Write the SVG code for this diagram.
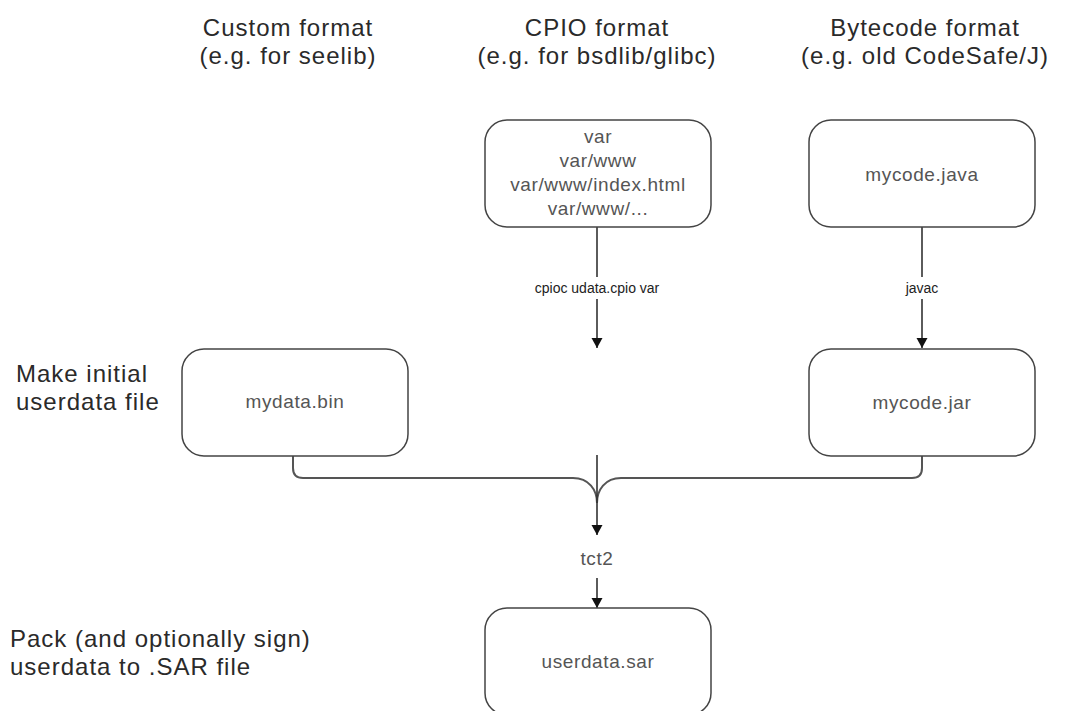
<svg xmlns="http://www.w3.org/2000/svg" width="1072" height="711" viewBox="0 0 1072 711">
<style>
.hdr{font-family:"Liberation Sans",Arial,sans-serif;font-size:24px;fill:#2a2a2a;letter-spacing:1px}
.side{font-family:"Liberation Sans",Arial,sans-serif;font-size:24px;fill:#2a2a2a;letter-spacing:1px}
.box{fill:#fff;stroke:#444;stroke-width:1.5}
.lbl{font-family:"Liberation Sans",Arial,sans-serif;font-size:19px;fill:#555;text-anchor:middle;letter-spacing:0.6px}
.edge{font-family:"Liberation Sans",Arial,sans-serif;font-size:14px;fill:#222;text-anchor:middle}
.con{fill:none;stroke:#333;stroke-width:1.6}
.merge{fill:none;stroke:#555;stroke-width:2}
</style>
<defs>
<marker id="arr" viewBox="0 0 10 14" refX="10" refY="7" markerWidth="10" markerHeight="14" markerUnits="userSpaceOnUse" orient="auto">
<path d="M0,1.5 L10,7 L0,12.5 z" fill="#111"/>
</marker>
</defs>

<g id="headers">
<text class="hdr" x="288" y="36" text-anchor="middle">Custom format</text>
<text class="hdr" x="288" y="64" text-anchor="middle">(e.g. for seelib)</text>
<text class="hdr" x="597" y="36" text-anchor="middle">CPIO format</text>
<text class="hdr" x="597" y="64" text-anchor="middle">(e.g. for bsdlib/glibc)</text>
<text class="hdr" x="925" y="36" text-anchor="middle">Bytecode format</text>
<text class="hdr" x="925" y="64" text-anchor="middle">(e.g. old CodeSafe/J)</text>
</g>

<g id="steps">
<text class="side" x="16" y="382">Make initial</text>
<text class="side" x="16" y="410">userdata file</text>
<text class="side" x="10" y="647">Pack (and optionally sign)</text>
<text class="side" x="10" y="675">userdata to .SAR file</text>
</g>

<g id="connectors">
<line class="con" x1="597" y1="227" x2="597" y2="277"/>
<text class="edge" x="597" y="293">cpioc udata.cpio var</text>
<line class="con" x1="597" y1="299" x2="597" y2="348" marker-end="url(#arr)"/>
<line class="con" x1="922" y1="227" x2="922" y2="277"/>
<text class="edge" x="922" y="293">javac</text>
<line class="con" x1="922" y1="299" x2="922" y2="348" marker-end="url(#arr)"/>
<path class="merge" d="M293,456 V468 Q293,478 303,478 H573 C589,478 597,490 597,503"/>
<path class="merge" d="M922,456 V468 Q922,478 912,478 H621 C605,478 597,490 597,503"/>
<line class="con" x1="597" y1="455" x2="597" y2="535" stroke-width="2" marker-end="url(#arr)"/>
<text class="lbl" x="597" y="565">tct2</text>
<line class="con" x1="597" y1="578" x2="597" y2="608" marker-end="url(#arr)"/>
</g>

<g id="cpio">
<rect class="box" x="485" y="120" width="226" height="107" rx="22"/>
<text class="lbl" x="598" y="143">var</text>
<text class="lbl" x="598" y="167">var/www</text>
<text class="lbl" x="598" y="191">var/www/index.html</text>
<text class="lbl" x="598" y="215">var/www/...</text>
</g>
<g id="mycode_java">
<rect class="box" x="809" y="120" width="226" height="107" rx="22"/>
<text class="lbl" x="922" y="181">mycode.java</text>
</g>
<g id="mydata_bin">
<rect class="box" x="182" y="349" width="226" height="107" rx="22"/>
<text class="lbl" x="295" y="408">mydata.bin</text>
</g>
<g id="mycode_jar">
<rect class="box" x="809" y="349" width="226" height="107" rx="22"/>
<text class="lbl" x="922" y="409">mycode.jar</text>
</g>
<g id="userdata_sar">
<rect class="box" x="485" y="608" width="226" height="107" rx="22"/>
<text class="lbl" x="598" y="668">userdata.sar</text>
</g>
</svg>
